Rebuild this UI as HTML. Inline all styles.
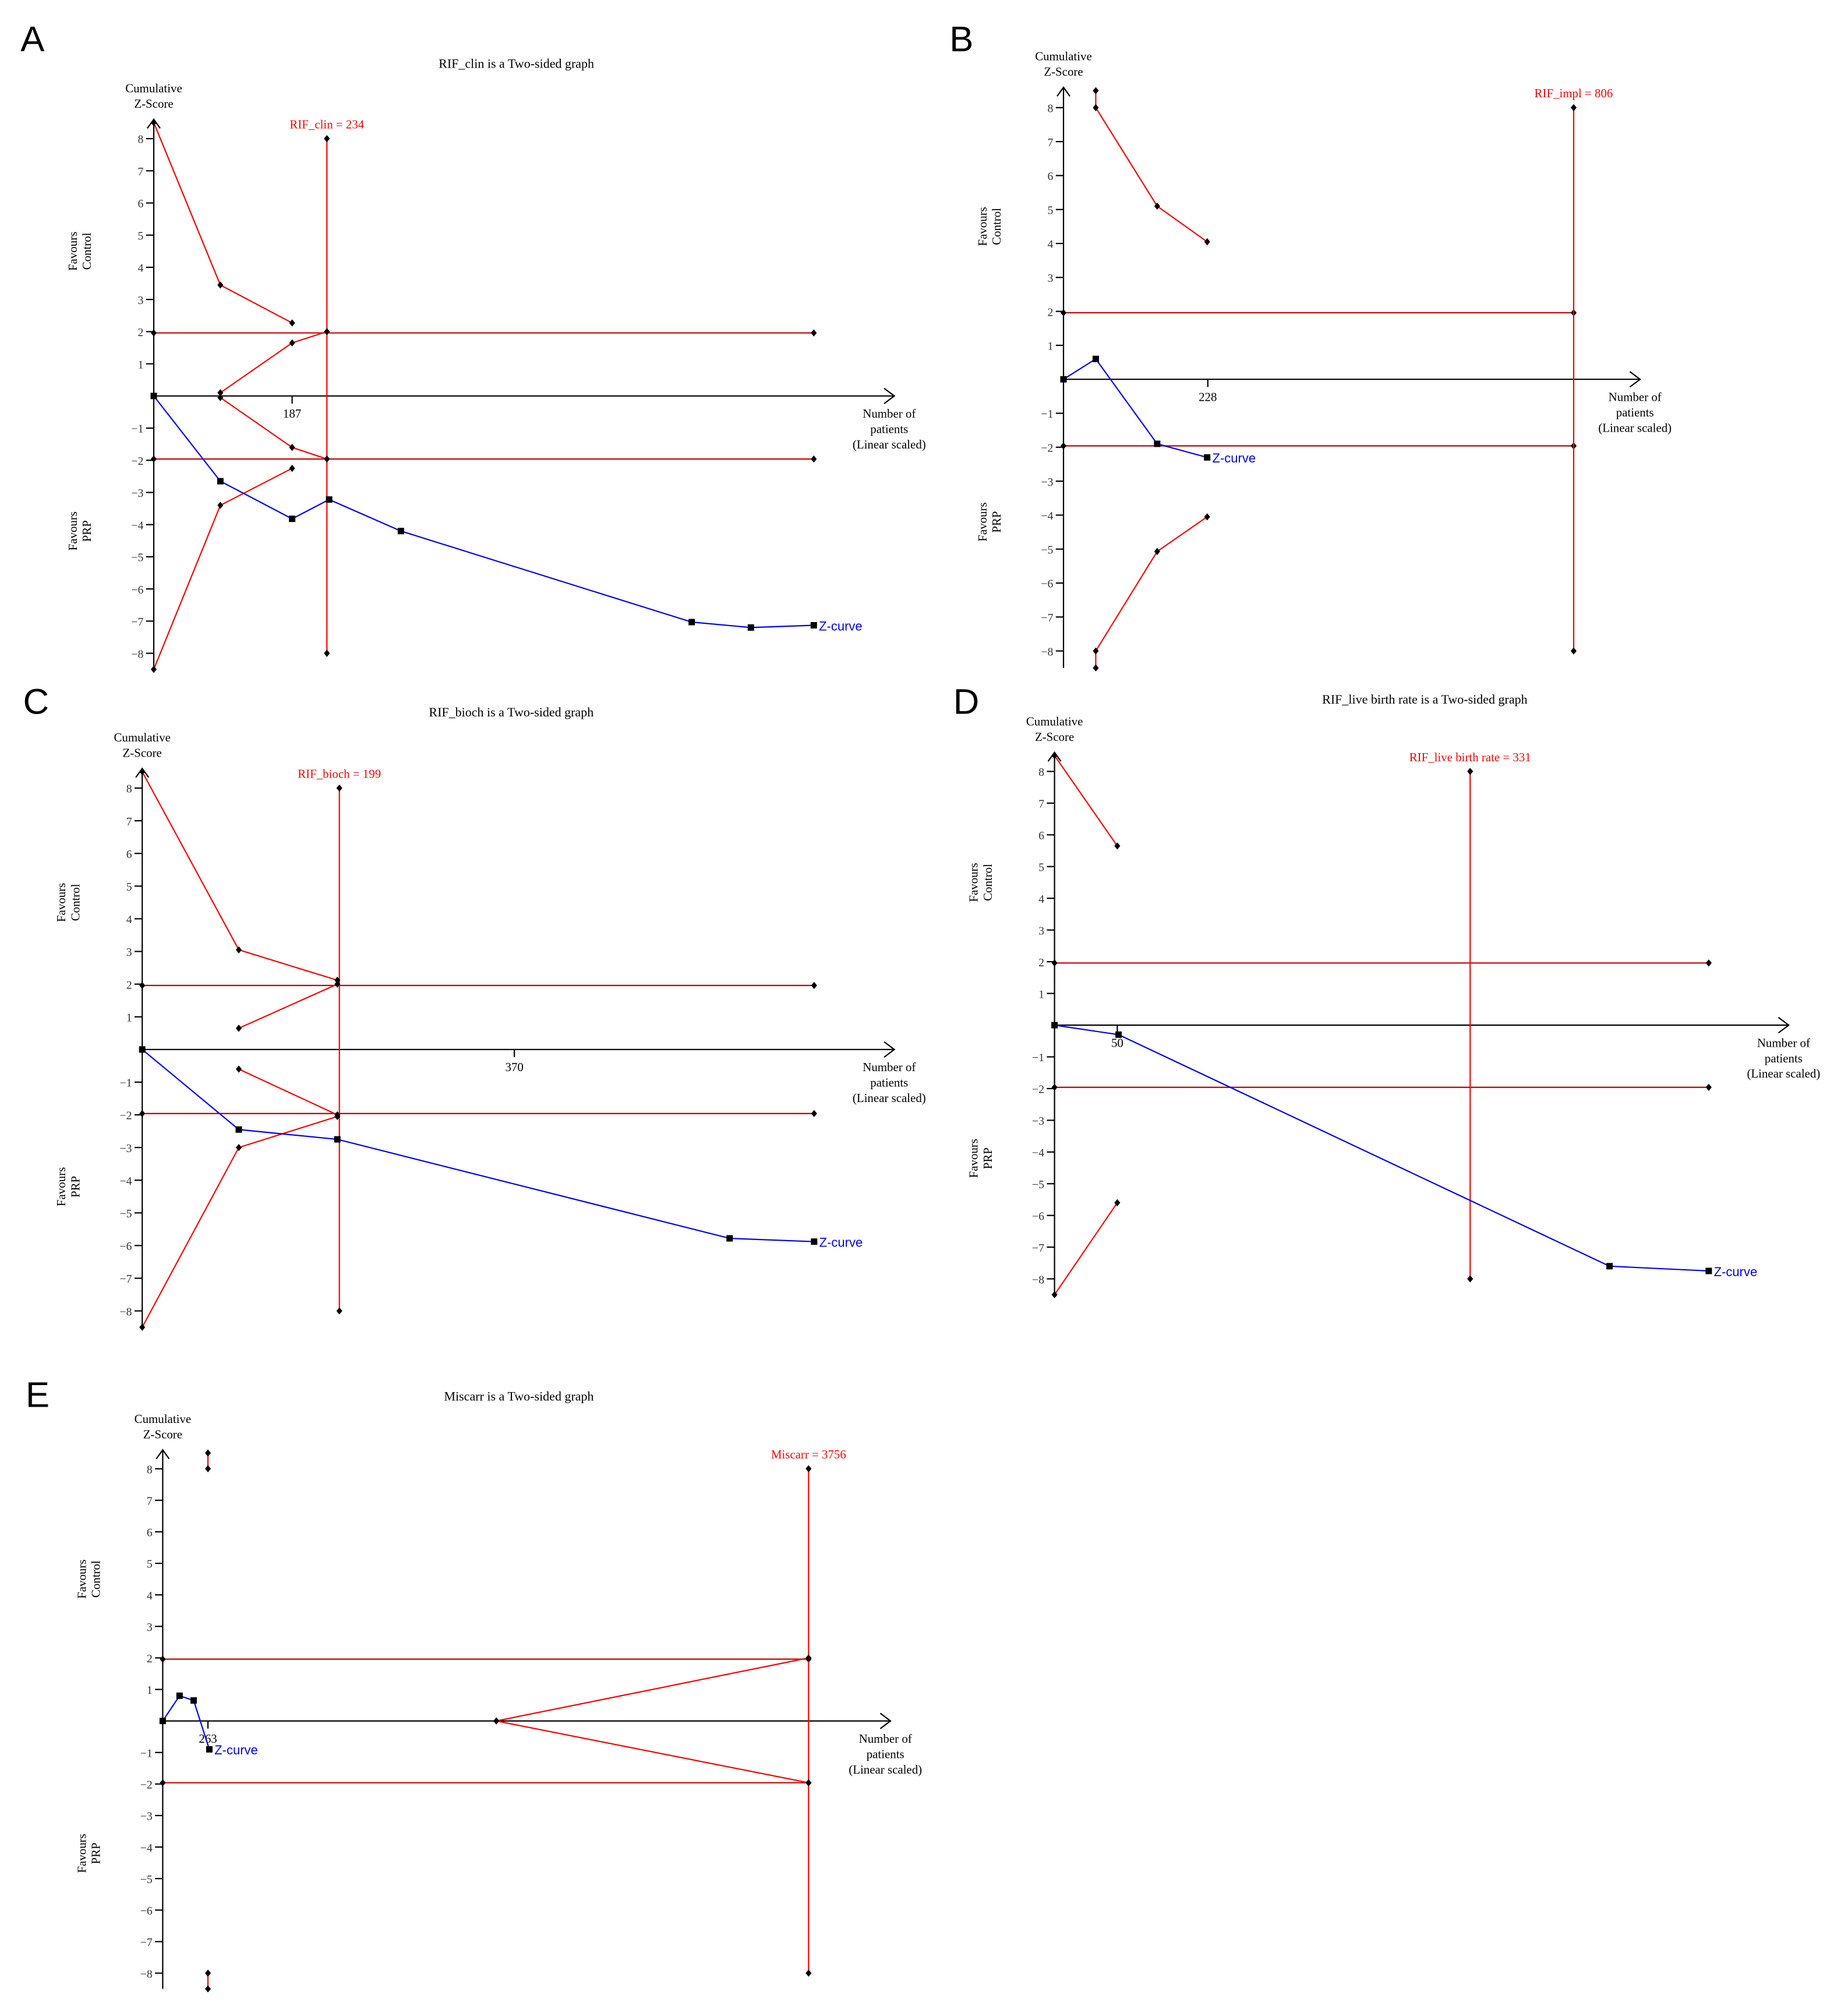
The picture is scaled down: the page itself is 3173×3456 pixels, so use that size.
<!DOCTYPE html>
<html><head><meta charset="utf-8"><style>
html,body{margin:0;padding:0;background:#fff;}
svg{display:block;}
</style></head><body>
<svg id="fig" width="3173" height="3456" viewBox="0 0 1442.27 1570.9" xmlns="http://www.w3.org/2000/svg"></svg>
<script>
// ---- data (patients, z-score) ----
const aUpper=[[0,8.5],[90,3.45],[187,2.27]];
const aUpperInner=[[90,0.1],[187,1.65],[234,2.0]];
const aLowerInner=[[90,-0.05],[187,-1.6],[234,-1.96]];
const aLower=[[0,-8.5],[90,-3.4],[187,-2.25]];
const aZ=[[0,0],[90,-2.65],[187,-3.82],[237,-3.22],[334,-4.2],[727,-7.03],[807,-7.2],[892,-7.13]];
const aRIS=234, aMaxN=892, aTick=187;

const bUpper=[[51,8.5],[51,8.0],[148,5.1],[227,4.05]];
const bLower=[[51,-8.5],[51,-8.0],[148,-5.07],[227,-4.05]];
const bZ=[[0,0],[51,0.6],[148,-1.9],[227,-2.3]];
const bRIS=806, bMaxN=806, bTick=228;

const cUpper=[[0,8.5],[96,3.05],[194,2.12]];
const cUpperInner=[[96,0.65],[194,2.0]];
const cLowerInner=[[96,-0.6],[194,-2.0]];
const cLower=[[0,-8.5],[96,-3.0],[194,-2.05]];
const cZ=[[0,0],[96,-2.45],[194,-2.75],[584,-5.78],[668,-5.88]];
const cRIS=196, cMaxN=668, cTick=370;

const dUpper=[[0,8.5],[50,5.65]];
const dLower=[[0,-8.5],[50,-5.6]];
const dZ=[[0,0],[51,-0.3],[442,-7.6],[521,-7.75]];
const dRIS=331, dMaxN=521, dTick=50;

const eUpper=[[263,8.5],[263,8.0]];
const eLower=[[263,-8.5],[263,-8.0]];
const eInnerUp=[[1940,0],[3756,2.0]];
const eInnerLo=[[1940,0],[3756,-1.96]];
const eZ=[[0,0],[98,0.8],[180,0.65],[271,-0.9]];
const eRIS=3756, eMaxN=3756, eTick=263;

const zTicks=[8,7,6,5,4,3,2,1,-1,-2,-3,-4,-5,-6,-7,-8];

const NS="http://www.w3.org/2000/svg";
const svg=document.getElementById('fig');
function mk(tag,attrs,parent){const e=document.createElementNS(NS,tag);for(const k in attrs)e.setAttribute(k,attrs[k]);(parent||svg).appendChild(e);return e;}
function txt(s,x,y,attrs,parent){const t=mk('text',Object.assign({x:x,y:y,'font-family':'"Liberation Serif",serif','font-size':9.5,fill:'#000'},attrs),parent);t.textContent=s;return t;}

function panel(cfg){
  const g=mk('g',{});
  
  
  const X=n=>cfg.ox+n*cfg.k, Y=z=>cfg.oy-z*cfg.u;
  // letter
  const L=txt(cfg.id.toUpperCase(),cfg.lx,cfg.ly,{'font-family':'"Liberation Sans",sans-serif','font-size':28},g);
  
  if(cfg.title){const t=txt(cfg.title,cfg.tx,cfg.ty,{'text-anchor':'middle','font-size':10},g);
    }
  // y axis
  const ya=mk('line',{x1:cfg.ox,y1:Y(8.6),x2:cfg.ox,y2:Y(-8.5),stroke:'#000','stroke-width':1},g);
  
  mk('polyline',{points:`${cfg.ox-5},${Y(8.6)+7} ${cfg.ox},${Y(8.6)} ${cfg.ox+5},${Y(8.6)+7}`,fill:'none',stroke:'#000','stroke-width':1},g);
  const yt=txt('Cumulative',cfg.ox,Y(8.6)-21,{'text-anchor':'middle'},g);
  
  txt('Z-Score',cfg.ox,Y(8.6)-9,{'text-anchor':'middle'},g);
  zTicks.forEach(z=>{
    mk('line',{x1:cfg.ox-6,y1:Y(z),x2:cfg.ox,y2:Y(z),stroke:'#000','stroke-width':1},g);
    const t=txt(String(z).replace('-','\u2212'),cfg.ox-8,Y(z)+3.5,{'text-anchor':'end','font-size':9,fill:'#333'},g);
    
  });
  // x axis
  const xa=mk('line',{x1:cfg.ox,y1:cfg.oy,x2:cfg.xEnd,y2:cfg.oy,stroke:'#000','stroke-width':1},g);
  
  mk('polyline',{points:`${cfg.xEnd-8},${cfg.oy-6} ${cfg.xEnd},${cfg.oy} ${cfg.xEnd-8},${cfg.oy+6}`,fill:'none',stroke:'#000','stroke-width':1},g);
  mk('line',{x1:X(cfg.tick),y1:cfg.oy,x2:X(cfg.tick),y2:cfg.oy+6,stroke:'#000','stroke-width':1},g);
  const xt=txt(String(cfg.tick),X(cfg.tick),cfg.oy+17,{'text-anchor':'middle'},g);
  
  const nx=cfg.xEnd-4;
  const xl=txt('Number of',nx,cfg.oy+17,{'text-anchor':'middle'},g);
  
  txt('patients',nx,cfg.oy+29,{'text-anchor':'middle'},g);
  txt('(Linear scaled)',nx,cfg.oy+41,{'text-anchor':'middle'},g);
  // favours labels
  [['Favours','Control',4.5,'favours-control-label'],['Favours','PRP',-4.2,'favours-prp-label']].forEach(f=>{
    const cy=Y(f[2]);const fx=cfg.ox-60;
    const t=txt(f[0],0,0,{'text-anchor':'middle','font-size':9.5,transform:`translate(${fx},${cy}) rotate(-90)`},g);
    
    txt(f[1],0,0,{'text-anchor':'middle','font-size':9.5,transform:`translate(${fx+11},${cy}) rotate(-90)`},g);
  });
  // conventional boundaries
  [1.96,-1.96].forEach(z=>{
    const l=mk('line',{x1:cfg.ox,y1:Y(z),x2:X(cfg.maxN),y2:Y(z),stroke:'#c00000','stroke-width':1},g);
    
    diamond(g,cfg.ox,Y(z));diamond(g,X(cfg.maxN),Y(z));
  });
  // RIS line
  const rl=mk('line',{x1:X(cfg.ris),y1:Y(8),x2:X(cfg.ris),y2:Y(-8),stroke:'#ff0000','stroke-width':1},g);
  
  diamond(g,X(cfg.ris),Y(8));diamond(g,X(cfg.ris),Y(-8));
  const rt=txt(cfg.risLabel,X(cfg.ris),Y(8)-8,{'text-anchor':'middle',fill:'#ff0000'},g);
  
  // boundaries
  cfg.bounds.forEach(b=>{
    const p=mk('polyline',{points:b.map(d=>X(d[0])+','+Y(d[1])).join(' '),fill:'none',stroke:'#ff0000','stroke-width':1},g);
    
    b.forEach(d=>diamond(g,X(d[0]),Y(d[1])));
  });
  // z curve
  const zc=mk('polyline',{points:cfg.z.map(d=>X(d[0])+','+Y(d[1])).join(' '),fill:'none',stroke:'#0000ff','stroke-width':1},g);
  
  cfg.z.forEach(d=>{const s=mk('rect',{x:X(d[0])-2.5,y:Y(d[1])-2.5,width:5,height:5,fill:'#000'},g);
    });
  const last=cfg.z[cfg.z.length-1];
  const zl=txt('Z-curve',X(last[0])+4,Y(last[1])+4,{'font-family':'"Liberation Sans",sans-serif','font-size':10,fill:'#0000ff'},g);
  
}
function diamond(g,x,y){
  const d=mk('polygon',{points:`${x},${y-2.8} ${x+2.3},${y} ${x},${y+2.8} ${x-2.3},${y}`,fill:'#000'},g);
  
  
}

panel({id:'a',lx:16,ly:40,title:'RIF_clin is a Two-sided graph',tx:403,ty:53,ox:120,oy:309,u:25.1,k:0.5775,xEnd:698,
  tick:aTick,ris:aRIS,maxN:aMaxN,risLabel:'RIF_clin = 234',bounds:[aUpper,aUpperInner,aLowerInner,aLower],z:aZ});
panel({id:'b',lx:741,ly:40,title:null,ox:830,oy:296,u:26.5,k:0.494,xEnd:1280,
  tick:bTick,ris:bRIS,maxN:bMaxN,risLabel:'RIF_impl = 806',bounds:[bUpper,bLower],z:bZ});
panel({id:'c',lx:18,ly:557,title:'RIF_bioch is a Two-sided graph',tx:399,ty:559,ox:111,oy:819,u:25.5,k:0.785,xEnd:698,
  tick:cTick,ris:cRIS,maxN:cMaxN,risLabel:'RIF_bioch = 199',bounds:[cUpper,cUpperInner,cLowerInner,cLower],z:cZ});
panel({id:'d',lx:744,ly:557,title:'RIF_live birth rate is a Two-sided graph',tx:1112,ty:549,ox:823,oy:800,u:24.75,k:0.98,xEnd:1396,
  tick:dTick,ris:dRIS,maxN:dMaxN,risLabel:'RIF_live birth rate = 331',bounds:[dUpper,dLower],z:dZ});
panel({id:'e',lx:20,ly:1098,title:'Miscarr is a Two-sided graph',tx:405,ty:1093,ox:127,oy:1343,u:24.6,k:0.1342,xEnd:695,
  tick:eTick,ris:eRIS,maxN:eMaxN,risLabel:'Miscarr = 3756',bounds:[eUpper,eLower,eInnerUp,eInnerLo],z:eZ});
</script>
</body></html>
